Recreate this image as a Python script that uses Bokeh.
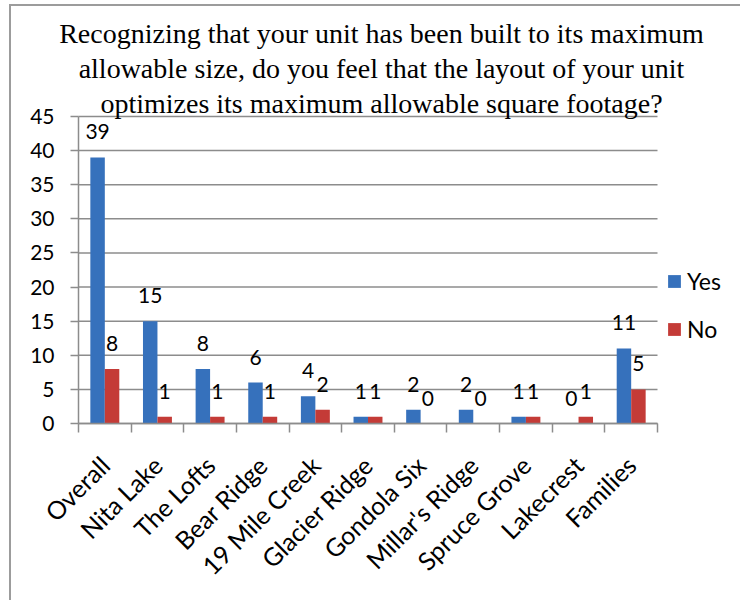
from math import pi
from bokeh.plotting import figure
from bokeh.models import (ColumnDataSource, Range1d, FixedTicker, LinearAxis,
                          LabelSet, Legend, LegendItem)
from bokeh.core.properties import value
from bokeh.transform import dodge
from bokeh.embed import file_html
from bokeh.resources import INLINE

# ---- data ----
categories = ["Overall", "Nita Lake", "The Lofts", "Bear Ridge", "19 Mile Creek",
              "Glacier Ridge", "Gondola Six", "Millar's Ridge", "Spruce Grove",
              "Lakecrest", "Families"]
yes_values = [39, 15, 8, 6, 4, 1, 2, 2, 1, 0, 11]
no_values = [8, 1, 1, 1, 2, 1, 0, 0, 1, 1, 5]
y_ticks = [0, 5, 10, 15, 20, 25, 30, 35, 40, 45]
series_names = ["Yes", "No"]
title_lines = ["Recognizing that your unit has been built to its maximum",
               "allowable size, do you feel that the layout of your unit",
               "optimizes its maximum allowable square footage?"]

BLUE = "#3671bc"
RED = "#c43b37"
GRID = "#8c8c8c"
FONT = "Lato"
Y_MAX = 45

# ---- layout (pixels) ----
W, H = 731, 596
AXIS_X = 67                        # y axis position, px from the canvas left
BOTTOM = 179                       # px below the x axis line
EXTRA = 14                         # frame reaches a little below the x axis
PLOT_W, PLOT_H = 579, 307          # the bar area
FRAME_H = H - BOTTOM               # px above the x axis
TITLE_CX = 303                     # title centre, px right of the y axis
TITLE_BASE = [381, 346, 311]       # title baselines, px above the x axis

n = len(categories)
px_x = PLOT_W / n
px_y = PLOT_H / Y_MAX

pos = [i + 0.5 for i in range(n)]
source = ColumnDataSource(dict(
    pos=pos, cat=categories, yes=yes_values, no=no_values,
    yes_txt=[str(v) for v in yes_values], no_txt=[str(v) for v in no_values]))
grid_src = ColumnDataSource(dict(y=y_ticks, x0=[0] * len(y_ticks), x1=[n] * len(y_ticks)))
title_src = ColumnDataSource(dict(
    text=title_lines, x=[TITLE_CX / px_x] * len(title_lines),
    y=[b / px_y for b in TITLE_BASE]))

p = figure(width=W, height=H, output_backend="svg", toolbar_location=None,
           x_range=Range1d(-AXIS_X / px_x, (W - AXIS_X) / px_x),
           y_range=Range1d(-EXTRA / px_y, FRAME_H / px_y),
           min_border_left=0, min_border_right=0,
           min_border_top=0, min_border_bottom=BOTTOM - EXTRA)
p.title.visible = False
p.styles = {"margin-left": "9px", "margin-top": "4px",
            "border-left": "2px solid #9c9c9c", "border-top": "2px solid #9c9c9c"}
p.outline_line_color = None
p.background_fill_color = "white"

# title
p.add_layout(LabelSet(x="x", y="y", text="text", source=title_src,
                      text_align="center", text_baseline="alphabetic",
                      text_font=value("Liberation Serif"), text_font_size="28px",
                      text_color="black"))

# gridlines over the bar area only
p.xgrid.grid_line_color = None
p.ygrid.grid_line_color = None
p.segment(x0="x0", x1="x1", y0="y", y1="y", source=grid_src,
          line_color=GRID, line_width=1.5)

bw = 0.275
r_yes = p.vbar(x=dodge("pos", -bw / 2, range=p.x_range), top="yes", bottom=0, width=bw,
               source=source, fill_color=BLUE, line_color=None)
r_no = p.vbar(x=dodge("pos", bw / 2, range=p.x_range), top="no", bottom=0, width=bw,
              source=source, fill_color=RED, line_color=None)

lbl_common = dict(y_offset=18, text_align="center", text_baseline="alphabetic",
                  text_font_size="21px", text_font=value(FONT), text_color="black")
p.add_layout(LabelSet(x=dodge("pos", -bw / 2, range=p.x_range), y="yes", text="yes_txt",
                      source=source, **lbl_common))
p.add_layout(LabelSet(x=dodge("pos", bw / 2, range=p.x_range), y="no", text="no_txt",
                      source=source, **lbl_common))

# y axis, pinned at x = 0 inside the frame
ya = p.yaxis[0]
ya.fixed_location = 0
ya.bounds = (0, Y_MAX)
ya.ticker = FixedTicker(ticks=y_ticks)
ya.axis_line_color = GRID
ya.axis_line_width = 1.5
ya.major_tick_line_color = GRID
ya.major_tick_line_width = 1.5
ya.major_tick_out = 8
ya.major_tick_in = 0
ya.minor_tick_line_color = None
ya.major_label_text_font = FONT
ya.major_label_text_font_size = "21px"
ya.major_label_text_color = "black"
ya.major_label_standoff = 16

# x axis: boundary ticks (no labels), pinned at y = 0
xa = p.xaxis[0]
xa.fixed_location = 0
xa.bounds = (0, n)
xa.ticker = FixedTicker(ticks=list(range(n + 1)))
xa.major_label_overrides = {i: "" for i in range(n + 1)}
xa.axis_line_color = GRID
xa.axis_line_width = 1.5
xa.major_tick_line_color = GRID
xa.major_tick_line_width = 1.5
xa.major_tick_out = 9
xa.major_tick_in = 0
xa.minor_tick_line_color = None
xa.major_label_standoff = 0

# x axis: category labels
xl = LinearAxis(ticker=FixedTicker(ticks=pos),
                major_label_overrides={pp: c for pp, c in zip(pos, categories)})
xl.axis_line_color = None
xl.major_tick_line_color = None
xl.minor_tick_line_color = None
xl.major_label_orientation = pi / 4
xl.major_label_text_font = FONT
xl.major_label_text_font_size = "25px"
xl.major_label_text_color = "black"
xl.major_label_standoff = 17
p.add_layout(xl, "below")

legend = Legend(items=[LegendItem(label=series_names[0], renderers=[r_yes]),
                       LegendItem(label=series_names[1], renderers=[r_no])],
                location=(AXIS_X + 588, 80 + EXTRA), orientation="vertical")
legend.border_line_color = None
legend.background_fill_alpha = 0
legend.padding = 0
legend.margin = 0
legend.glyph_width = 16
legend.glyph_height = 16
legend.label_height = 24
legend.spacing = 20
legend.label_standoff = 5
legend.label_text_font = FONT
legend.label_text_font_size = "23px"
legend.label_text_color = "black"
p.add_layout(legend)

open("out.html", "w").write(file_html(p, INLINE))
